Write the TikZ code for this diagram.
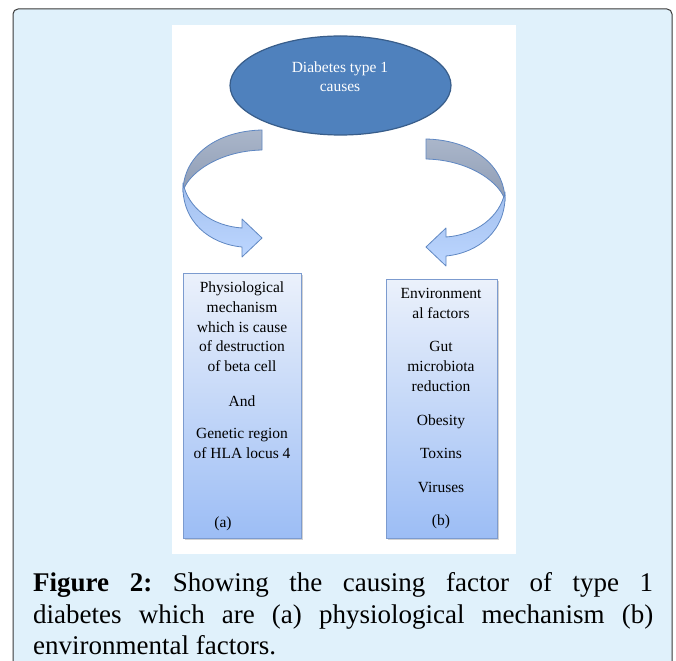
\documentclass[tikz,border=0pt]{standalone}
\usepackage{fontspec}
\setmainfont{Liberation Serif}
\usetikzlibrary{shapes.geometric,shadows}
\definecolor{bgblue}{HTML}{E0F1FB}
\definecolor{framec}{HTML}{3A3A3A}
\definecolor{ellfill}{HTML}{4F81BD}
\definecolor{elldraw}{HTML}{385D8A}
\definecolor{arrowedge}{HTML}{5F87C2}
\definecolor{graytop}{HTML}{AAB6CA}
\definecolor{graybot}{HTML}{8E9CB4}
\definecolor{bluetop}{HTML}{A3C0EE}
\definecolor{bluebot}{HTML}{BCD6FF}
\definecolor{boxtop}{HTML}{EBF1FB}
\definecolor{boxbot}{HTML}{9CBDF5}
\definecolor{boxdraw}{HTML}{7C9BCF}
\frenchspacing
\begin{document}
\begin{tikzpicture}[x=1pt,y=-1pt,
  boxtext/.style={font=\fontsize{15.5}{20}\selectfont, anchor=base, inner sep=0pt},
  elltext/.style={font=\fontsize{15.5}{20}\selectfont, anchor=base, inner sep=0pt, text=white},
  captext/.style={font=\fontsize{27}{31}\selectfont, anchor=base west, inner sep=0pt},
  arrowpart/.style={draw=arrowedge, line width=0.8pt, line join=round},
  graypart/.style={arrowpart, top color=graytop, bottom color=graybot},
  bluepart/.style={arrowpart, top color=bluetop, bottom color=bluebot},
  causebox/.style={rectangle, draw=boxdraw, line width=0.8pt, top color=boxtop, bottom color=boxbot,
    inner sep=0pt, drop shadow={shadow xshift=2pt, shadow yshift=-2pt, opacity=0.35}},
  causeell/.style={ellipse, draw=elldraw, line width=1.2pt, fill=ellfill, inner sep=0pt}]
\useasboundingbox (0,0) rectangle (676,660);
\clip (0,0) rectangle (676,660);
% frame and panel
\draw[framec, line width=1pt, fill=bgblue, rounded corners=5pt] (13,9) rectangle (672,690);
\fill[white] (172,25) rectangle (516,554);
% ellipse
\node[causeell, minimum width=221pt, minimum height=99pt] (E) at (340.5,85.5) {};
\node[elltext] (e1) at (340,73) {Diabetes type 1};
\node[elltext] (e2) at (340,92) {causes};
% left curved arrow
\path[graypart] (262,130) .. controls (216,131) and (183,156) .. (183,192)
   .. controls (186,176) and (216,151) .. (262,150) -- cycle;
\path[bluepart] (183,183) .. controls (181,222) and (210,244) .. (242,247)
   -- (242,257) -- (262,238) -- (242,219) -- (242,228)
   .. controls (212,226) and (188,208) .. (183,183) -- cycle;
% right curved arrow (mirror)
\begin{scope}[xshift=688pt, xscale=-1, yshift=-9pt]
\path[graypart] (262,130) .. controls (216,131) and (183,156) .. (183,192)
   .. controls (186,176) and (216,151) .. (262,150) -- cycle;
\path[bluepart] (183,183) .. controls (181,222) and (210,244) .. (242,247)
   -- (242,257) -- (262,238) -- (242,219) -- (242,228)
   .. controls (212,226) and (188,208) .. (183,183) -- cycle;
\end{scope}
% boxes
\node[causebox, minimum width=118pt, minimum height=265pt] (A) at (242,405.5) {};
\node[causebox, minimum width=111pt, minimum height=259pt] (B) at (441.5,408.5) {};
\foreach \yy/\txt [count=\i] in {287/Physiological, 307/mechanism, 327/which is cause,
   346/of destruction, 366/of beta cell, 401/And, 433/Genetic region, 453/of HLA locus 4}
  \node[boxtext] (L\i) at (242,\yy+5) {\txt};
\node[boxtext] (La) at (223,527) {(a)};
\foreach \yy/\txt [count=\i] in {293/Environment, 313/al factors, 346/Gut, 366/microbiota,
   386/reduction, 420/Obesity, 453/Toxins, 487/Viruses, 520/(b)}
  \node[boxtext] (R\i) at (441,\yy+5) {\txt};
% caption
\node[captext] (cap1) at (33,591) {\makebox[620pt][s]{\textbf{Figure 2:} Showing the causing factor of type 1}};
\node[captext] (cap2) at (33,623) {\makebox[620pt][s]{diabetes which are (a) physiological mechanism (b)}};
\node[captext] (cap3) at (33,654) {environmental factors.};
\end{tikzpicture}
\end{document}
